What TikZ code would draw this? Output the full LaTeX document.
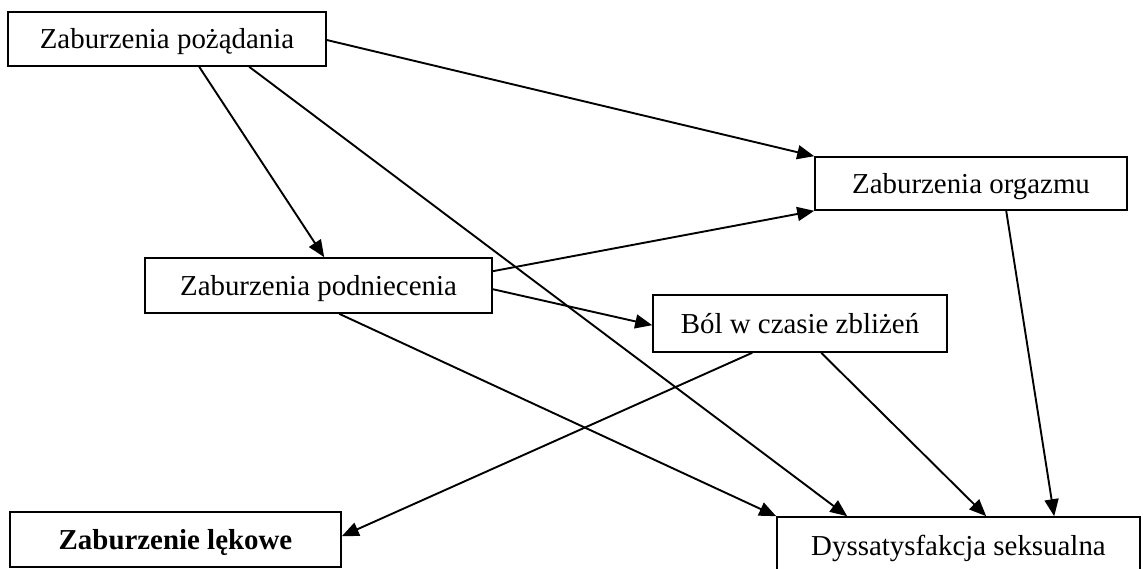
\documentclass[tikz,border=0pt]{standalone}
\usepackage{fontspec}
\setmainfont{Liberation Serif}
\usetikzlibrary{arrows.meta}
\begin{document}
\begin{tikzpicture}[x=1pt,y=-1pt,
  box/.style={draw,line width=1.6pt,inner sep=0pt,
    text height=19pt,text depth=0pt,
    font=\fontsize{28.9}{34}\selectfont},
  arr/.style={line width=1.9pt,-{Triangle[length=17pt,width=14pt]}}]
\useasboundingbox (0,0) rectangle (1143,568);
% boxes
\node[box,minimum width=318pt,minimum height=54pt] (A) at (167,39) {Zaburzenia pożądania};
\node[box,minimum width=312pt,minimum height=53pt] (B) at (971,183.5) {Zaburzenia orgazmu};
\node[box,minimum width=347pt,minimum height=55pt] (C) at (318.5,285.5) {Zaburzenia podniecenia};
\node[box,minimum width=294pt,minimum height=57pt] (D) at (800,323.5) {Ból w czasie zbliżeń};
\node[box,minimum width=331pt,minimum height=55pt,font=\fontsize{28.9}{34}\selectfont\bfseries] (E) at (175.5,539.5) {Zaburzenie lękowe};
\node[box,minimum width=363pt,minimum height=57pt] (F) at (958.5,545.5) {Dyssatysfakcja seksualna};
% connectors
\draw[arr] ([shift={(0,1)}]A.east) -- (B.north west);
\draw[arr] ([shift={(192,0)}]A.south west) -- ([shift={(180,0)}]C.north west);
\draw[arr] ([shift={(242,0)}]A.south west) -- ([shift={(71,0)}]F.north west);
\draw[arr] ([shift={(0,14)}]C.north east) -- (B.south west);
\draw[arr] ([shift={(0,32)}]C.north east) -- ([shift={(0,31)}]D.north west);
\draw[arr] ([shift={(195,0)}]C.south west) -- (F.north west);
\draw[arr] ([shift={(100,0)}]D.south west) -- ([shift={(0,25)}]E.north east);
\draw[arr] ([shift={(169,0)}]D.south west) -- ([shift={(210,0)}]F.north west);
\draw[arr] ([shift={(192,0)}]B.south west) -- ([shift={(278,0)}]F.north west);
\end{tikzpicture}
\end{document}
